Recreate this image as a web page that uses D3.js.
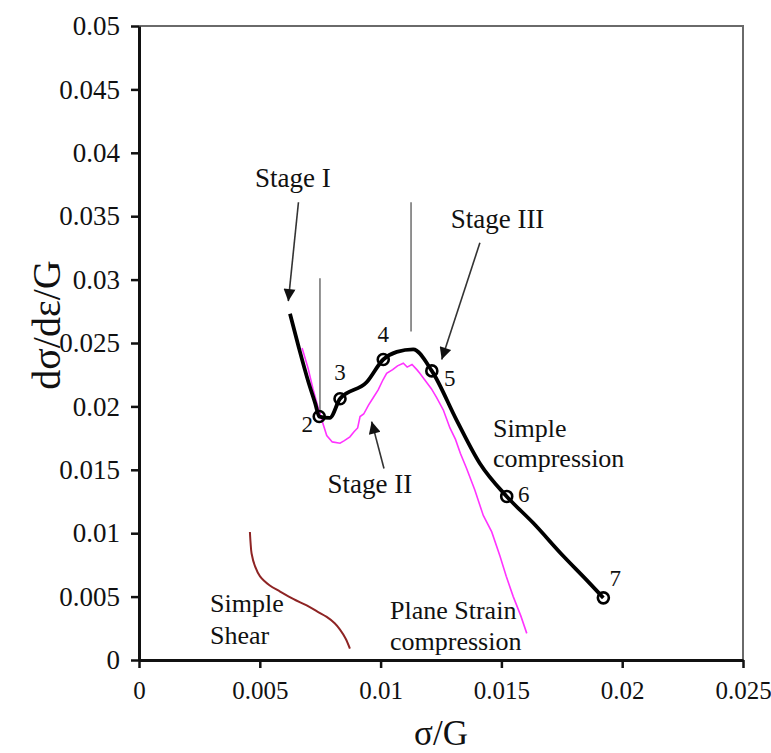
<!DOCTYPE html>
<html>
<head>
<meta charset="utf-8">
<script src="https://cdn.jsdelivr.net/npm/d3@7"></script>
<style>
  html, body { margin: 0; padding: 0; background: #fff; }
  svg { display: block; }
  text { font-family: "Liberation Serif", "Times New Roman", serif; fill: #111; }
</style>
</head>
<body>
<svg id="chart" width="771" height="753"></svg>
<script>
// ---------- data ----------
const xTicks = [0, 0.005, 0.01, 0.015, 0.02, 0.025];
const xTickLabels = ["0", "0.005", "0.01", "0.015", "0.02", "0.025"];
const yTicks = [0, 0.005, 0.01, 0.015, 0.02, 0.025, 0.03, 0.035, 0.04, 0.045, 0.05];
const yTickLabels = ["0", "0.005", "0.01", "0.015", "0.02", "0.025", "0.03", "0.035", "0.04", "0.045", "0.05"];

// Simple compression (black)
const compX = [0.00625, 0.00662, 0.00700, 0.00730, 0.00746, 0.00790, 0.00832, 0.00942, 0.01011, 0.01067, 0.01135, 0.01212, 0.01315, 0.01411, 0.01522, 0.01632, 0.01756, 0.01853, 0.01922];
const compY = [0.0273, 0.0246, 0.0220, 0.0202, 0.0192, 0.0191, 0.0206, 0.0219, 0.0237, 0.0243, 0.0245, 0.0228, 0.0189, 0.0155, 0.0129, 0.0108, 0.0082, 0.0063, 0.0049];

// numbered points on simple compression
const markLabels = ["2", "3", "4", "5", "6", "7"];
const markX = [0.00746, 0.00832, 0.01011, 0.01212, 0.01522, 0.01922];
const markY = [0.0192, 0.0206, 0.0237, 0.0228, 0.0129, 0.0049];

// Plane strain compression (magenta)
const planeX = [0.00675, 0.00700, 0.00720, 0.00740, 0.00757, 0.00777, 0.00800, 0.00832, 0.00850, 0.00873, 0.00890, 0.00905, 0.00915, 0.00930, 0.00950, 0.00970, 0.00990, 0.01010, 0.01025, 0.01050, 0.01070, 0.01094, 0.01110, 0.01130, 0.01150, 0.01163, 0.01190, 0.01210, 0.01232, 0.01260, 0.01287, 0.01310, 0.01330, 0.01356, 0.01390, 0.01425, 0.01460, 0.01494, 0.01520, 0.01549, 0.01580, 0.01605];
const planeY = [0.0246, 0.0230, 0.0214, 0.0200, 0.0189, 0.0177, 0.0172, 0.0171, 0.0173, 0.0176, 0.0180, 0.0183, 0.0192, 0.0194, 0.0201, 0.0207, 0.0213, 0.0221, 0.0226, 0.0229, 0.0232, 0.0234, 0.0231, 0.0233, 0.0229, 0.0226, 0.0219, 0.0214, 0.0207, 0.0197, 0.0183, 0.0174, 0.0163, 0.0151, 0.0134, 0.0114, 0.0101, 0.0082, 0.0066, 0.0050, 0.0035, 0.0021];

// Simple shear (dark red)
const shearX = [0.00459, 0.00462, 0.00466, 0.00480, 0.00501, 0.00540, 0.00584, 0.00640, 0.00694, 0.00740, 0.00777, 0.00810, 0.00832, 0.00855, 0.00873];
const shearY = [0.0101, 0.0092, 0.0084, 0.0074, 0.0066, 0.0059, 0.0054, 0.0048, 0.0043, 0.0038, 0.0034, 0.0029, 0.0024, 0.0017, 0.0009];

// vertical guide lines [x, yTop, yBottom]
const guideLines = [[0.00749, 0.0301, 0.0193], [0.01126, 0.0361, 0.0259]];

// arrows [x1, y1, x2(tip), y2(tip)]
const arrows = [[0.00660, 0.0361, 0.00618, 0.0283], [0.01411, 0.0329, 0.01253, 0.0237], [0.01014, 0.0151, 0.00963, 0.0188]];

// text annotations [text, x, y(baseline)]
const notes = [
  ["Stage I", 0.00480, 0.0373],
  ["Stage III", 0.01290, 0.0341],
  ["Stage II", 0.0078, 0.0132],
  ["Simple", 0.01465, 0.0176],
  ["compression", 0.01465, 0.0152],
  ["Plane Strain", 0.01039, 0.0032],
  ["compression", 0.01039, 0.0008],
  ["Simple", 0.00294, 0.0038],
  ["Shear", 0.00294, 0.0013]
];

// ---------- chart ----------
const svg = d3.select("#chart");
const L = 139, R = 743, T = 26, B = 660;
const x = d3.scaleLinear().domain([0, 0.025]).range([L, R]);
const y = d3.scaleLinear().domain([0, 0.05]).range([B, T]);

// frame (top & right thin grey)
svg.append("path")
  .attr("d", `M${L},${T}H${R}V${B}`)
  .attr("fill", "none").attr("stroke", "#6a6a6a").attr("stroke-width", 2);

const yAxis = svg.append("g").attr("transform", `translate(${L},0)`)
  .call(d3.axisLeft(y).tickValues(yTicks).tickSize(8).tickSizeOuter(0).tickPadding(11)
    .tickFormat((d, i) => yTickLabels[i]));
const xAxis = svg.append("g").attr("transform", `translate(0,${B})`)
  .call(d3.axisBottom(x).tickValues(xTicks).tickSize(8).tickSizeOuter(0).tickPadding(13)
    .tickFormat((d, i) => xTickLabels[i]));
[yAxis, xAxis].forEach((g, k) => {
  g.select(".domain").attr("stroke", "#111").attr("stroke-width", 3);
  g.selectAll(".tick line").attr("stroke", "#111").attr("stroke-width", 2.5);
  g.selectAll(".tick text").attr("font-size", k === 0 ? 27 : 25)
    .attr("font-family", "Liberation Serif, Times New Roman, serif").attr("fill", "#111");
});

// axis titles
svg.append("text").attr("x", 441).attr("y", 745).attr("text-anchor", "middle")
  .attr("font-size", 35).text("σ/G");
svg.append("text").attr("transform", `translate(60,325) rotate(-90)`)
  .attr("text-anchor", "middle").attr("font-size", 40).text("dσ/dε/G");

// guide lines
svg.selectAll("line.guide").data(guideLines).enter().append("line")
  .attr("class", "guide")
  .attr("x1", d => x(d[0])).attr("x2", d => x(d[0]))
  .attr("y1", d => y(d[1])).attr("y2", d => y(d[2]))
  .attr("stroke", "#777").attr("stroke-width", 1.6);

// simple shear
svg.append("path").datum(shearX.map((v, i) => [v, shearY[i]]))
  .attr("d", d3.line().x(d => x(d[0])).y(d => y(d[1])).curve(d3.curveCatmullRom)).attr("fill", "none")
  .attr("stroke", "#8e2424").attr("stroke-width", 2);

// plane strain
svg.append("path").datum(planeX.map((v, i) => [v, planeY[i]]))
  .attr("d", d3.line().x(d => x(d[0])).y(d => y(d[1]))).attr("fill", "none")
  .attr("stroke", "#ff33ff").attr("stroke-width", 1.6);

// simple compression
svg.append("path").datum(compX.map((v, i) => [v, compY[i]]))
  .attr("d", d3.line().x(d => x(d[0])).y(d => y(d[1])).curve(d3.curveMonotoneX)).attr("fill", "none")
  .attr("stroke", "#000").attr("stroke-width", 3.8).attr("stroke-linejoin", "round");

svg.selectAll("circle.mk").data(markX.map((v, i) => [v, markY[i]])).enter().append("circle")
  .attr("class", "mk")
  .attr("cx", d => x(d[0])).attr("cy", d => y(d[1])).attr("r", 5.5)
  .attr("fill", "none").attr("stroke", "#000").attr("stroke-width", 2.6);

// number labels
const numOffsets = [[-12, 15], [0, -19], [0, -17], [18, 15], [17, 6], [12, -12]];
svg.selectAll("text.num").data(markLabels).enter().append("text")
  .attr("class", "num")
  .attr("x", (d, i) => x(markX[i]) + numOffsets[i][0])
  .attr("y", (d, i) => y(markY[i]) + numOffsets[i][1])
  .attr("text-anchor", "middle").attr("font-size", 23).text(d => d);

// arrows
const defs = svg.append("defs");
defs.append("marker").attr("id", "ah").attr("viewBox", "0 0 10 10")
  .attr("refX", 10).attr("refY", 5).attr("markerWidth", 15).attr("markerHeight", 12)
  .attr("markerUnits", "userSpaceOnUse").attr("orient", "auto")
  .append("path").attr("d", "M0,0L10,5L0,10Z").attr("fill", "#111");
svg.selectAll("line.arrow").data(arrows).enter().append("line")
  .attr("class", "arrow")
  .attr("x1", d => x(d[0])).attr("y1", d => y(d[1]))
  .attr("x2", d => x(d[2])).attr("y2", d => y(d[3]))
  .attr("stroke", "#333").attr("stroke-width", 1.6).attr("marker-end", "url(#ah)");

// notes
svg.selectAll("text.note").data(notes).enter().append("text")
  .attr("class", "note")
  .attr("x", d => x(d[1])).attr("y", d => y(d[2]))
  .attr("font-size", d => d[0].startsWith("Stage") ? 27 : 26).text(d => d[0]);
</script>
</body>
</html>
